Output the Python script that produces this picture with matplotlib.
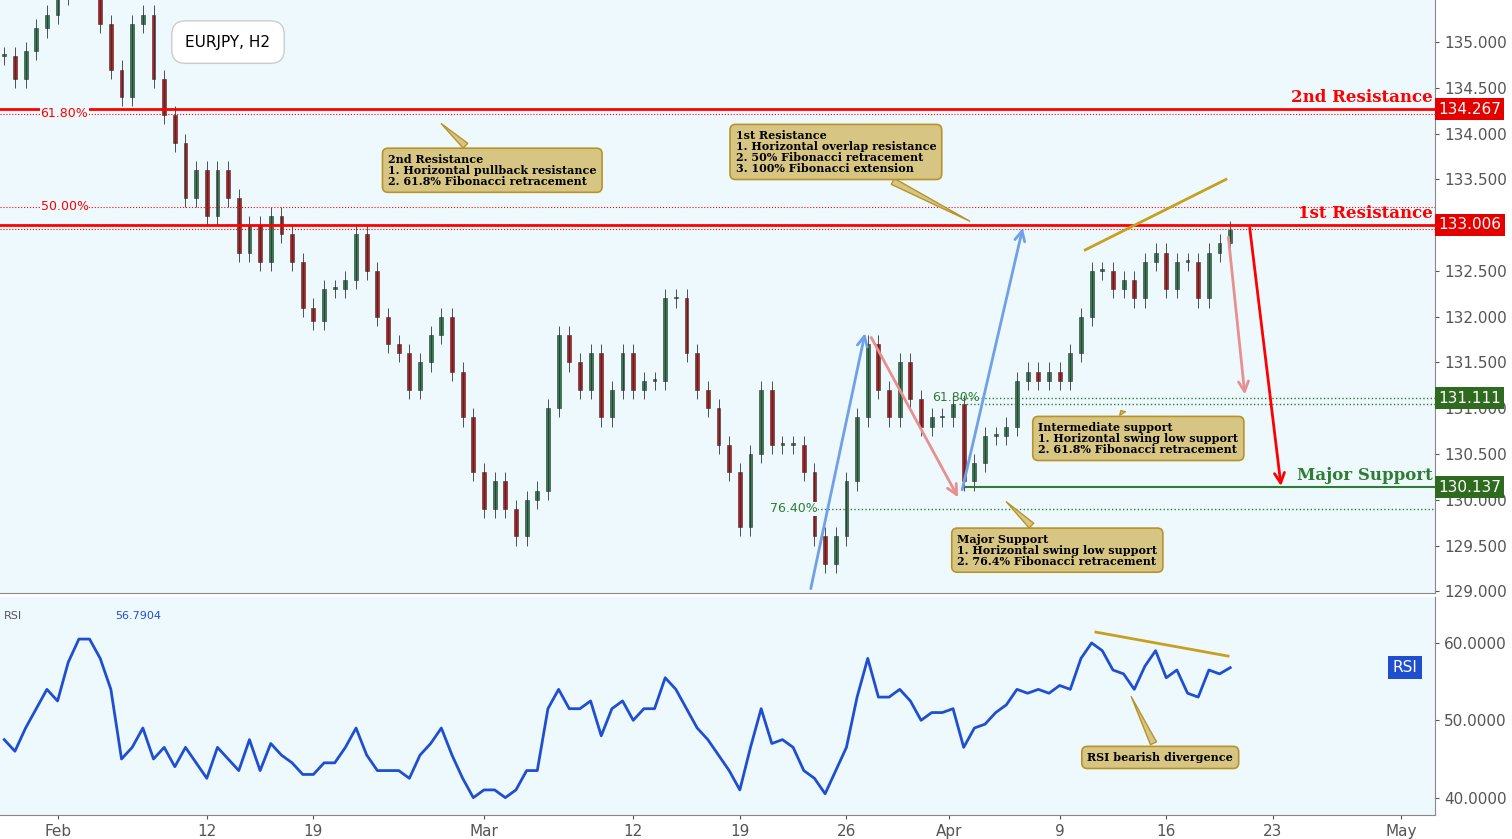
import matplotlib.pyplot as plt
import numpy as np

# x in trading days, half-day steps, Feb 1 = 0
start_day = -2.5
closes = [134.85, 134.6, 134.9, 135.15, 135.3, 135.5, 135.6, 135.7, 135.6, 135.2,
          134.7, 134.4, 135.2, 135.3, 134.6, 134.2, 133.9, 133.3, 133.6, 133.1,
          133.6, 133.3, 132.7, 133.0, 132.6, 133.1, 132.9, 132.6, 132.1, 131.95,
          132.3, 132.3, 132.4, 132.9, 132.5, 132.0, 131.7, 131.6, 131.2, 131.5,
          131.8, 132.0, 131.4, 130.9, 130.3, 129.9, 130.2, 129.9, 129.6, 130.0,
          130.1, 131.0, 131.8, 131.5, 131.2, 131.6, 130.9, 131.2, 131.6, 131.2,
          131.3, 131.3, 132.2, 132.2, 131.6, 131.2, 131.0, 130.6, 130.3, 129.7,
          130.5, 131.2, 130.6, 130.6, 130.6, 130.3, 129.6, 129.3, 129.6, 130.2,
          130.9, 131.7, 131.2, 130.9, 131.5, 131.1, 130.8, 130.9, 130.9, 131.05,
          130.2, 130.4, 130.7, 130.7, 130.8, 131.3, 131.4, 131.3, 131.4, 131.3,
          131.6, 132.0, 132.5, 132.5, 132.3, 132.4, 132.2, 132.6, 132.7, 132.3,
          132.6, 132.6, 132.2, 132.7, 132.8, 132.95]
rsi = [47.5, 46, 49, 51.5, 54, 52.5, 57.5, 60.5, 60.5, 58, 54, 45, 46.5, 49, 45,
       46.5, 44, 46.5, 44.5, 42.5, 46.5, 45, 43.5, 47.5, 43.5, 47, 45.5, 44.5, 43,
       43, 44.5, 44.5, 46.5, 49, 45.5, 43.5, 43.5, 43.5, 42.5, 45.5, 47, 49, 45.5,
       42.5, 40, 41, 41, 40, 41, 43.5, 43.5, 51.5, 54, 51.5, 51.5, 52.5, 48, 51.5,
       52.5, 50, 51.5, 51.5, 55.5, 54, 51.5, 49, 47.5, 45.5, 43.5, 41, 46.5, 51.5,
       47, 47.5, 46.5, 43.5, 42.5, 40.5, 43.5, 46.5, 53, 58, 53, 53, 54, 52.5, 50,
       51, 51, 51.5, 46.5, 49, 49.5, 51, 52, 54, 53.5, 54, 53.5, 54.5, 54, 58, 60,
       59, 56.5, 56, 54, 57, 59, 55.5, 56.5, 53.5, 53, 56.5, 56, 56.8]
tick_pos = [0, 7, 12, 20, 27, 32, 37, 41.8, 47, 52, 57, 63]
tick_lab = ["Feb", "12", "19", "Mar", "12", "19", "26", "Apr", "9", "16", "23", "May"]
price_ticks = [129.0, 129.5, 130.0, 130.5, 131.0, 131.5, 132.0, 132.5, 133.5, 134.0, 134.5, 135.0]
rsi_ticks = [40, 50, 60]

bg = "#eef9fd"
up, dn = "#2e7d4f", "#b71c1c"
xs = start_day + 0.5 * np.arange(len(closes))
opens = [closes[0]] + closes[:-1]

fig = plt.figure(figsize=(15.12, 8.39), dpi=100)
ax = fig.add_axes([0, 0.293, 0.949, 0.707], facecolor=bg)
ar = fig.add_axes([0, 0.029, 0.949, 0.260], facecolor=bg, sharex=ax)
xl = (-2.7, 64.6)

for x, o, c in zip(xs, opens, closes):
    col = up if c >= o else dn
    lo, hi = min(o, c), max(o, c)
    ax.vlines(x, lo - 0.1, hi + 0.1, color="#333", lw=0.6)
    ax.bar(x, max(hi - lo, 0.02), bottom=lo, width=0.18, color=col, edgecolor="#333", lw=0.4)

ax.set_xlim(*xl)
ax.set_ylim(128.98, 135.46)
ax.yaxis.tick_right()
ax.set_yticks(price_ticks)
ax.set_yticklabels([f"{v:.3f}" for v in price_ticks], fontsize=11, color="#333")
ax.tick_params(axis="x", labelbottom=False, length=0)
ax.tick_params(axis="y", length=3, colors="#555")
for a in (ax, ar):
    for s in ("top", "left"):
        a.spines[s].set_visible(False)
    a.spines["right"].set_color("#888")
    a.spines["bottom"].set_color("#888")

# levels
ax.axhline(134.267, color="red", lw=2)
ax.axhline(133.006, color="red", lw=2)
ax.axhline(134.22, color="red", lw=0.8, ls=":")
ax.axhline(133.2, color="red", lw=0.8, ls=":")
ax.axhline(132.96, color="red", lw=0.8, ls=":")
ax.text(-0.8, 134.22, "61.80%", color="red", fontsize=9, va="center", ha="left",
        bbox=dict(fc=bg, ec="none", pad=0.5))
ax.text(-0.8, 133.2, "50.00%", color="red", fontsize=9, va="center", ha="left",
        bbox=dict(fc=bg, ec="none", pad=0.5))
ax.plot([42.3, 64.6], [131.111, 131.111], color="#2e7d32", lw=1, ls=":")
ax.plot([42.3, 64.6], [131.05, 131.05], color="#2e7d32", lw=1, ls=":")
ax.plot([42.6, 64.6], [130.137, 130.137], color="#2e7d32", lw=1.5)
ax.plot([35.6, 64.6], [129.9, 129.9], color="#2e7d32", lw=1, ls=":")
ax.text(41.0, 131.05, "61.80%", color="#2e7d32", fontsize=9, va="bottom")
ax.text(33.4, 129.9, "76.40%", color="#2e7d32", fontsize=9, va="center",
        bbox=dict(fc=bg, ec="none", pad=0.5))

sty = dict(fontfamily="DejaVu Serif", fontweight="bold", ha="right")
ax.text(64.5, 134.3, "2nd Resistance", color="red", fontsize=12, va="bottom", **sty)
ax.text(64.5, 133.04, "1st Resistance", color="red", fontsize=12, va="bottom", **sty)
ax.text(64.5, 130.17, "Major Support", color="#2e7d32", fontsize=12, va="bottom", **sty)

for v, col in [(134.267, "#e50000"), (133.006, "#e50000"), (131.111, "#2e6b1e"), (130.137, "#2e6b1e")]:
    ax.text(64.75, v, f"{v:.3f}", color="white", fontsize=11, va="center", ha="left",
            bbox=dict(fc=col, ec="none", pad=2.5), clip_on=False, zorder=5)

# arrows
def arrow(a, p0, p1, col):
    a.annotate("", xy=p1, xytext=p0,
               arrowprops=dict(arrowstyle="->", color=col, lw=2, mutation_scale=18))

arrow(ax, (35.3, 129.0), (37.9, 131.85), "#6fa0e8")
arrow(ax, (42.4, 130.08), (45.3, 133.0), "#6fa0e8")
arrow(ax, (38.1, 131.8), (42.3, 130.0), "#e89090")
arrow(ax, (54.9, 132.9), (55.7, 131.12), "#e89090")
arrow(ax, (55.9, 133.0), (57.4, 130.12), "red")
ax.plot([48.2, 54.8], [132.73, 133.5], color="#c8a020", lw=2)

# callout boxes
box = dict(boxstyle="round,pad=0.5", fc="#d7c584", ec="#b8932a", lw=1.2)
def callout(txt, xy, xytext):
    ax.annotate(txt, xy=xy, xytext=xytext, fontsize=8, fontfamily="DejaVu Serif",
                fontweight="bold", color="black", ha="left", va="center", bbox=box,
                linespacing=1.0,
                arrowprops=dict(arrowstyle="wedge,tail_width=0.6", fc="#d7c584", ec="#b8932a"))

callout("2nd Resistance\n1. Horizontal pullback resistance\n2. 61.8% Fibonacci retracement",
        (17.9, 134.13), (15.5, 133.6))
callout("1st Resistance\n1. Horizontal overlap resistance\n2. 50% Fibonacci retracement\n3. 100% Fibonacci extension",
        (42.9, 133.03), (31.8, 133.8))
callout("Intermediate support\n1. Horizontal swing low support\n2. 61.8% Fibonacci retracement",
        (49.8, 131.0), (46.0, 130.67))
callout("Major Support\n1. Horizontal swing low support\n2. 76.4% Fibonacci retracement",
        (44.4, 130.0), (42.2, 129.45))

ax.text(6.0, 135.0, "EURJPY, H2", fontsize=11, va="center", ha="left",
        bbox=dict(boxstyle="round,pad=0.9", fc="white", ec="#ccc"))

# RSI
ar.plot(xs, rsi, color="#1f4fd0", lw=2)
ar.plot([48.7, 54.9], [61.4, 58.3], color="#c8a020", lw=2)
ar.set_ylim(37.8, 66)
ar.yaxis.tick_right()
ar.set_yticks(rsi_ticks)
ar.set_yticklabels([f"{v:.4f}" for v in rsi_ticks], fontsize=11, color="#333")
ar.set_xticks(tick_pos)
ar.set_xticklabels(tick_lab, fontsize=11, color="#333")
ar.tick_params(length=3, colors="#555")
ar.text(-2.5, 63.5, "RSI", fontsize=8, color="#555", va="center")
ar.text(2.7, 63.5, "56.7904", fontsize=8, color="#1f4fd0", va="center")
ar.text(63.2, 56.8, "RSI", color="white", fontsize=11, va="center", ha="center",
        bbox=dict(fc="#1f4fd0", ec="none", pad=3))
ar.annotate("RSI bearish divergence", xy=(50.3, 53.4), xytext=(48.3, 45.2),
            fontsize=8, fontfamily="DejaVu Serif", fontweight="bold", va="center",
            bbox=box, arrowprops=dict(arrowstyle="wedge,tail_width=0.6", fc="#d7c584", ec="#b8932a"))

fig.savefig("out.png", dpi=100)
